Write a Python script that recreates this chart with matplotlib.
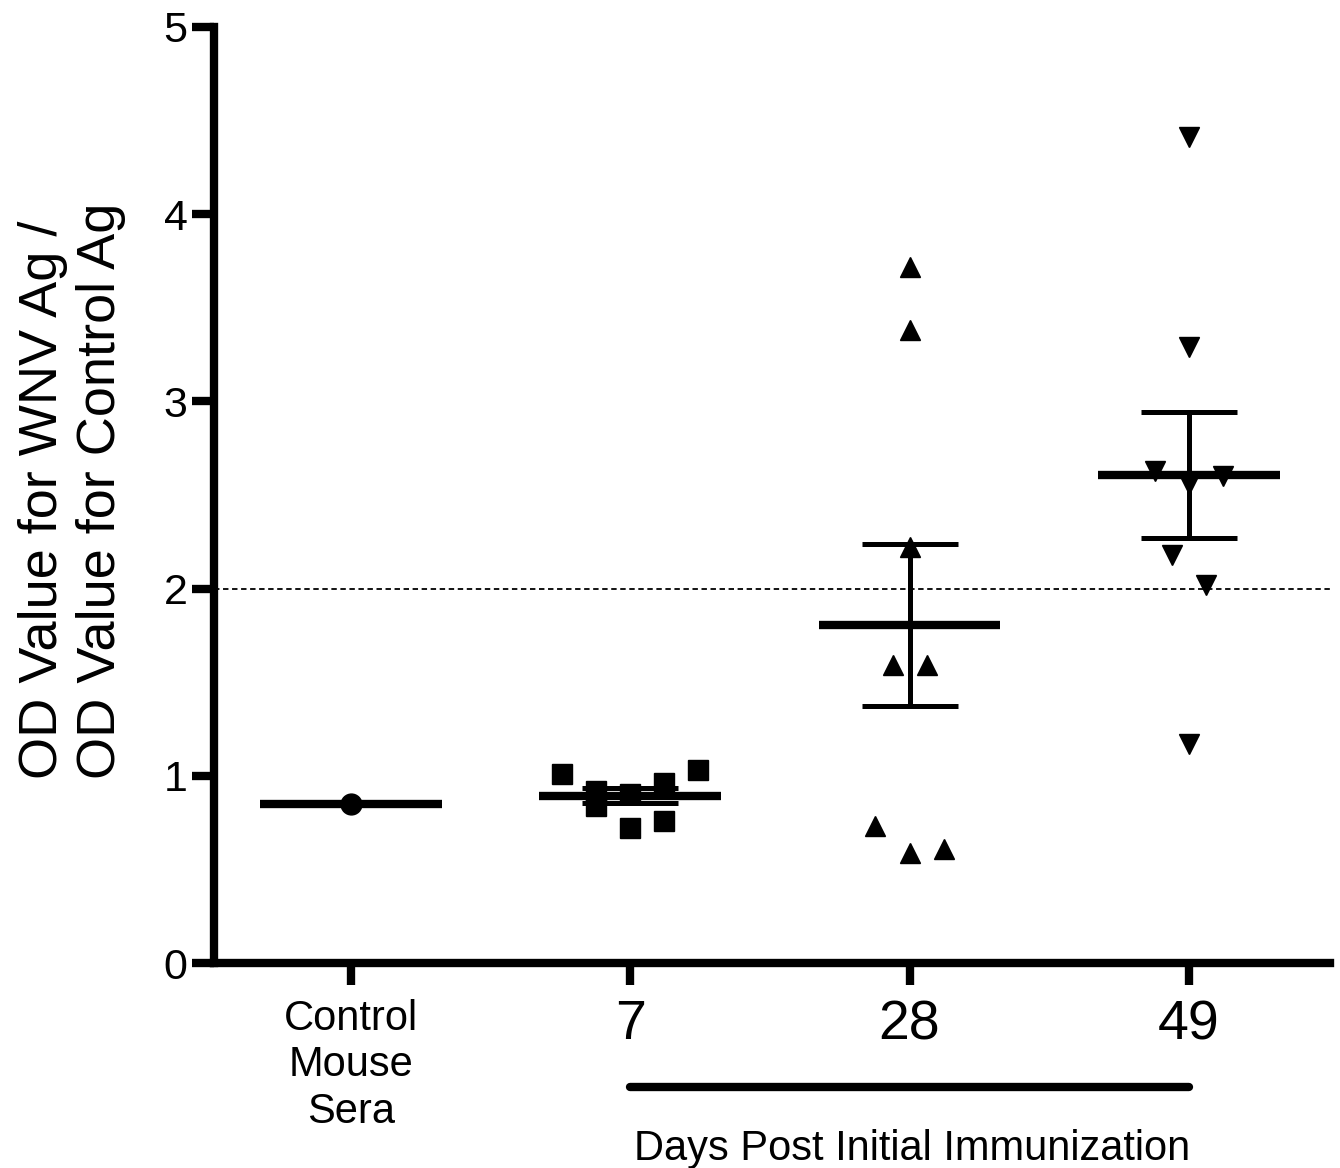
import numpy as np
import matplotlib
matplotlib.use('Agg')
import matplotlib.pyplot as plt

plt.rcParams['font.family'] = ['Liberation Sans', 'DejaVu Sans']

# x axis groups
group_labels = ['Control\nMouse\nSera', '7', '28', '49']
group_markers = ['o', 's', '^', 'v']

# OD(WNV Ag) / OD(control Ag)
control_sera = [0.85]
day7 = [1.01, 0.92, 0.84, 0.905, 0.72, 0.96, 0.76, 1.03]
day28 = [3.72, 3.38, 2.22, 1.59, 1.59, 0.73, 0.59, 0.61]
day49 = [4.41, 3.29, 2.63, 2.56, 2.60, 2.18, 2.02, 1.17]

# column slot of each point inside its group (scatter spread)
control_slots = [0]
day7_slots = [-2, -1, -1, 0, 0, 1, 1, 2]
day28_slots = [0, 0, 0, -0.5, 0.5, -1, 0, 1]
day49_slots = [0, 0, -1, 0, 1, -0.5, 0.5, 0]

cutoff = 2.0
y_ticks = [0, 1, 2, 3, 4, 5]
x_title = 'Days Post Initial Immunization'
y_title = 'OD Value for WNV Ag /\nOD Value for Control Ag'


def draw_group(ax, idx, values, slots, marker):
    values = np.asarray(values, dtype=float)
    xs = idx + 0.122 * np.asarray(slots, dtype=float)
    ax.plot(xs, values, linestyle='none', marker=marker, markersize=15,
            color='black', zorder=3)
    mean = values.mean()
    ax.hlines(mean, idx - 0.325, idx + 0.325, color='black', linewidth=6,
              zorder=4)
    if len(values) > 1:
        sem = values.std(ddof=1) / np.sqrt(len(values))
        ax.errorbar(idx, mean, yerr=sem, fmt='none', ecolor='black',
                    elinewidth=3.6, capsize=34.5, capthick=3.6, zorder=4)


def main():
    fig = plt.figure(figsize=(13.4, 11.68), dpi=100)
    ax = fig.add_axes([0.1597, 0.1755, 0.8328, 0.8014])

    groups = [control_sera, day7, day28, day49]
    slots = [control_slots, day7_slots, day28_slots, day49_slots]
    for i in range(len(groups)):
        draw_group(ax, i, groups[i], slots[i], group_markers[i])

    ax.axhline(cutoff, color='black', linewidth=1.3, dashes=(3, 2), zorder=2)

    ax.set_xlim(-0.49, 3.505)
    ax.set_ylim(0, 5)
    ax.set_yticks(y_ticks)
    ax.set_yticklabels([str(t) for t in y_ticks], fontsize=31)
    ax.set_xticks(range(len(group_labels)))
    ax.set_xticklabels(group_labels)
    for lab, size in zip(ax.get_xticklabels(), [30, 40, 40, 40]):
        lab.set_fontsize(size)

    for side in ['top', 'right']:
        ax.spines[side].set_visible(False)
    for side in ['left', 'bottom']:
        ax.spines[side].set_linewidth(6)
    ax.tick_params(axis='y', length=16, width=6, pad=3)
    ax.tick_params(axis='x', length=16, width=6, pad=10)

    ax.set_ylabel(y_title, fontsize=39, ma='left', labelpad=27)
    ax.yaxis.label.set_y(0.505)

    # bar under the immunization days
    ax.plot([1, 3], [-0.662, -0.662], color='black', linewidth=6,
            solid_capstyle='round', clip_on=False)
    ax.text(2.01, -1.052, x_title, ha='center', va='baseline', fontsize=30)

    fig.savefig('out.png', dpi=100)


if __name__ == '__main__':
    main()
